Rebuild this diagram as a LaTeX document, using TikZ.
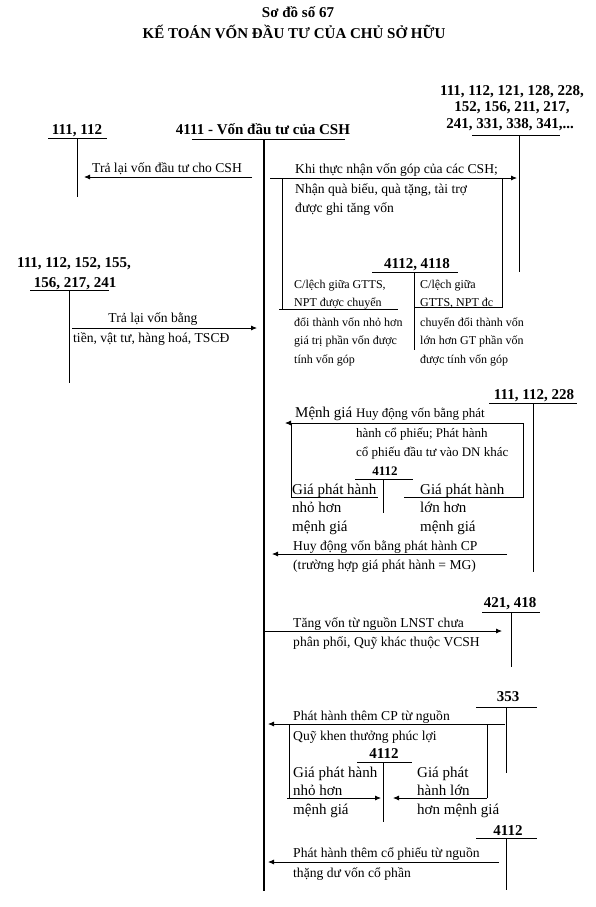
\documentclass[tikz,border=0pt]{standalone}
\usepackage{fontspec}
\setmainfont{Liberation Serif}
\usetikzlibrary{arrows.meta}
\begin{document}
\begin{tikzpicture}[x=1pt,y=-1pt,
  acc/.style={font=\fontsize{15}{17}\selectfont\bfseries, inner sep=0, anchor=base},
  accs/.style={font=\fontsize{13}{15}\selectfont\bfseries, inner sep=0, anchor=base},
  ttl/.style={font=\fontsize{15}{17}\selectfont\bfseries, inner sep=0, anchor=base},
  txt/.style={font=\fontsize{13.6}{16}\selectfont, inner sep=0, anchor=base west},
  big/.style={font=\fontsize{15}{17}\selectfont, inner sep=0, anchor=base west},
  sml/.style={font=\fontsize{13}{15}\selectfont, inner sep=0, anchor=base west},
  tiny/.style={font=\fontsize{12}{14}\selectfont, inner sep=0, anchor=base west},
  ln/.style={line width=0.8pt},
  mainln/.style={line width=1.8pt},
  arr/.style={line width=0.8pt, -{Latex[length=6pt,width=5pt]}}]
\useasboundingbox (0,0) rectangle (596,907);
% title
\node[ttl] (t1) at (298,18) {Sơ đồ số 67};
\node[ttl] (t2) at (294,39) {KẾ TOÁN VỐN ĐẦU TƯ CỦA CHỦ SỞ HỮU};
% account 111,112 (top left)
\node[acc] (aA) at (77,134) {111, 112};
\coordinate (aAl) at (48,138); \coordinate (aAr) at (107,138);
\coordinate (aAt) at (77,138); \coordinate (aAb) at (77,197);
\draw[ln] (aAl) -- (aAr); \draw[ln] (aAt) -- (aAb);
% main account
\node[acc] (mA) at (263,134) {4111 - Vốn đầu tư của CSH};
\coordinate (mAl) at (192,139); \coordinate (mAr) at (345,139);
\coordinate (mAt) at (264,139); \coordinate (mAb) at (264,891);
\draw[ln] (mAl) -- (mAr); \draw[mainln] (mAt) -- (mAb);
% right account list
\node[acc] (r1a) at (512,95) {111, 112, 121, 128, 228,};
\node[acc] (r1b) at (512,111) {152, 156, 211, 217,};
\node[acc] (r1c) at (510,128) {241, 331, 338, 341,...};
\coordinate (r1l) at (472,135); \coordinate (r1r) at (560,135);
\coordinate (r1t) at (519,135); \coordinate (r1b2) at (519,272);
\draw[ln] (r1l) -- (r1r); \draw[ln] (r1t) -- (r1b2);
% arrow 1
\coordinate (a1s) at (252,177); \coordinate (a1e) at (84,177);
\draw[arr] (a1s) -- (a1e);
\node[txt] (a1t) at (92,172) {Trả lại vốn đầu tư cho CSH};
% arrow 2 and box 1
\coordinate (a2s) at (270,178); \coordinate (a2e) at (517,178);
\draw[arr] (a2s) -- (a2e);
\node[txt] (a2t1) at (295,173) {Khi thực nhận vốn góp của các CSH;};
\node[txt] (a2t2) at (295,193) {Nhận quà biếu, quà tặng, tài trợ};
\node[txt] (a2t3) at (295,212) {được ghi tăng vốn};
\coordinate (b1lt) at (282,178); \coordinate (b1lb) at (282,309);
\coordinate (b1bl) at (279,309); \coordinate (b1br) at (398,309);
\coordinate (b1rt) at (502,178); \coordinate (b1rb) at (502,307);
\coordinate (b1rl) at (414,307);
\draw[ln] (b1lt) -- (b1lb); \draw[ln] (b1bl) -- (b1br);
\draw[ln] (b1rt) -- (b1rb) -- (b1rl);
% account 4112, 4118
\node[acc] (k1) at (417,268) {4112, 4118};
\coordinate (k1l) at (372,272); \coordinate (k1r) at (458,272);
\coordinate (k1t) at (414,272); \coordinate (k1b) at (414,350);
\draw[ln] (k1l) -- (k1r); \draw[ln] (k1t) -- (k1b);
\node[tiny] (c1a) at (294,288) {C/lệch giữa GTTS,};
\node[tiny] (c1b) at (294,306) {NPT được chuyển};
\node[tiny] (c1c) at (294,326) {đổi thành vốn nhỏ hơn};
\node[tiny] (c1d) at (294,344) {giá trị phần vốn được};
\node[tiny] (c1e) at (294,363) {tính vốn góp};
\node[tiny] (c2a) at (420,288) {C/lệch giữa};
\node[tiny] (c2b) at (420,306) {GTTS, NPT đc};
\node[tiny] (c2c) at (420,326) {chuyển đổi thành vốn};
\node[tiny] (c2d) at (420,344) {lớn hơn GT phần vốn};
\node[tiny] (c2e) at (420,363) {được tính vốn góp};
% account left 2
\node[acc] (l2a) at (74,267) {111, 112, 152, 155,};
\node[acc] (l2b) at (75,287) {156, 217, 241};
\coordinate (l2l) at (30,290); \coordinate (l2r) at (109,290);
\coordinate (l2t) at (69,290); \coordinate (l2b2) at (69,383);
\draw[ln] (l2l) -- (l2r); \draw[ln] (l2t) -- (l2b2);
\coordinate (a3s) at (72,328); \coordinate (a3e) at (257,328);
\draw[arr] (a3s) -- (a3e);
\node[txt, anchor=base] (a3t1) at (153,322) {Trả lại vốn bằng};
\node[txt] (a3t2) at (73,342) {tiền, vật tư, hàng hoá, TSCĐ};
% account 111,112,228
\node[acc] (m1) at (534,399) {111, 112, 228};
\coordinate (m1l) at (489,403); \coordinate (m1r) at (577,403);
\coordinate (m1t) at (533,403); \coordinate (m1b) at (533,572);
\draw[ln] (m1l) -- (m1r); \draw[ln] (m1t) -- (m1b);
\coordinate (a4s) at (523,423); \coordinate (a4e) at (285,423);
\draw[arr] (a4s) -- (a4e);
\node[big] (a4t0) at (295,417) {Mệnh giá};
\node[sml] (a4t1) at (356,417) {Huy động vốn bằng phát};
\node[sml] (a4t2) at (356,437) {hành cổ phiếu; Phát hành};
\node[sml] (a4t3) at (356,456) {cổ phiếu đầu tư vào DN khác};
\coordinate (b2lt) at (291,423); \coordinate (b2lb) at (291,497);
\coordinate (b2br) at (378,497);
\coordinate (b2rt) at (523,423); \coordinate (b2rb) at (523,497);
\coordinate (b2rl) at (404,497);
\draw[ln] (b2lt) -- (b2lb) -- (b2br);
\draw[ln] (b2rt) -- (b2rb) -- (b2rl);
\node[accs] (k2) at (385,475) {4112};
\coordinate (k2l) at (355,479); \coordinate (k2r) at (413,479);
\coordinate (k2t) at (383,479); \coordinate (k2b) at (383,513);
\draw[ln] (k2l) -- (k2r); \draw[ln] (k2t) -- (k2b);
\node[big] (d1a) at (292,494) {Giá phát hành};
\node[big] (d1b) at (292,512) {nhỏ hơn};
\node[big] (d1c) at (292,531) {mệnh giá};
\node[big] (d2a) at (420,494) {Giá phát hành};
\node[big] (d2b) at (420,512) {lớn hơn};
\node[big] (d2c) at (420,531) {mệnh giá};
\coordinate (a5s) at (507,554); \coordinate (a5e) at (272,554);
\draw[arr] (a5s) -- (a5e);
\node[txt] (a5t1) at (293,550) {Huy động vốn bằng phát hành CP};
\node[txt] (a5t2) at (293,569) {(trường hợp giá phát hành = MG)};
% account 421,418
\node[acc] (n1) at (510,607) {421, 418};
\coordinate (n1l) at (482,612); \coordinate (n1r) at (540,612);
\coordinate (n1t) at (511,612); \coordinate (n1b) at (511,667);
\draw[ln] (n1l) -- (n1r); \draw[ln] (n1t) -- (n1b);
\coordinate (a6s) at (265,631); \coordinate (a6e) at (502,631);
\draw[arr] (a6s) -- (a6e);
\node[txt] (a6t1) at (293,627) {Tăng vốn từ nguồn LNST chưa};
\node[txt] (a6t2) at (293,646) {phân phối, Quỹ khác thuộc VCSH};
% account 353
\node[acc] (p1) at (508,701) {353};
\coordinate (p1l) at (476,707); \coordinate (p1r) at (537,707);
\coordinate (p1t) at (506,707); \coordinate (p1b) at (506,773);
\draw[ln] (p1l) -- (p1r); \draw[ln] (p1t) -- (p1b);
\coordinate (a7s) at (505,724); \coordinate (a7e) at (268,724);
\draw[arr] (a7s) -- (a7e);
\node[txt] (a7t1) at (293,720) {Phát hành thêm CP từ nguồn};
\node[txt] (a7t2) at (293,740) {Quỹ khen thưởng phúc lợi};
\coordinate (b3lt) at (289,724); \coordinate (b3lb) at (289,798);
\coordinate (b3lbs) at (287,798); \coordinate (b3le) at (381,798);
\coordinate (b3rt) at (487,724); \coordinate (b3rb) at (487,798);
\coordinate (b3re) at (393,798);
\draw[ln] (b3lt) -- (b3lb);
\draw[arr] (b3lbs) -- (b3le);
\draw[ln] (b3rt) -- (b3rb);
\draw[arr] (b3rb) -- (b3re);
\node[acc] (k3) at (384,758) {4112};
\coordinate (k3l) at (357,762); \coordinate (k3r) at (412,762);
\coordinate (k3t) at (383,762); \coordinate (k3b) at (383,822);
\draw[ln] (k3l) -- (k3r); \draw[ln] (k3t) -- (k3b);
\node[big] (e1a) at (293,777) {Giá phát hành};
\node[big] (e1b) at (293,795) {nhỏ hơn};
\node[big] (e1c) at (293,814) {mệnh giá};
\node[big] (e2a) at (417,777) {Giá phát};
\node[big] (e2b) at (417,795) {hành lớn};
\node[big] (e2c) at (417,814) {hơn mệnh giá};
% account 4112 last
\node[acc] (q1) at (508,835) {4112};
\coordinate (q1l) at (476,838); \coordinate (q1r) at (537,838);
\coordinate (q1t) at (506,838); \coordinate (q1b) at (506,890);
\draw[ln] (q1l) -- (q1r); \draw[ln] (q1t) -- (q1b);
\coordinate (a8s) at (499,862); \coordinate (a8e) at (268,862);
\draw[arr] (a8s) -- (a8e);
\node[txt] (a8t1) at (293,857) {Phát hành thêm cổ phiếu từ nguồn};
\node[txt] (a8t2) at (293,877) {thặng dư vốn cổ phần};
\end{tikzpicture}
\end{document}
